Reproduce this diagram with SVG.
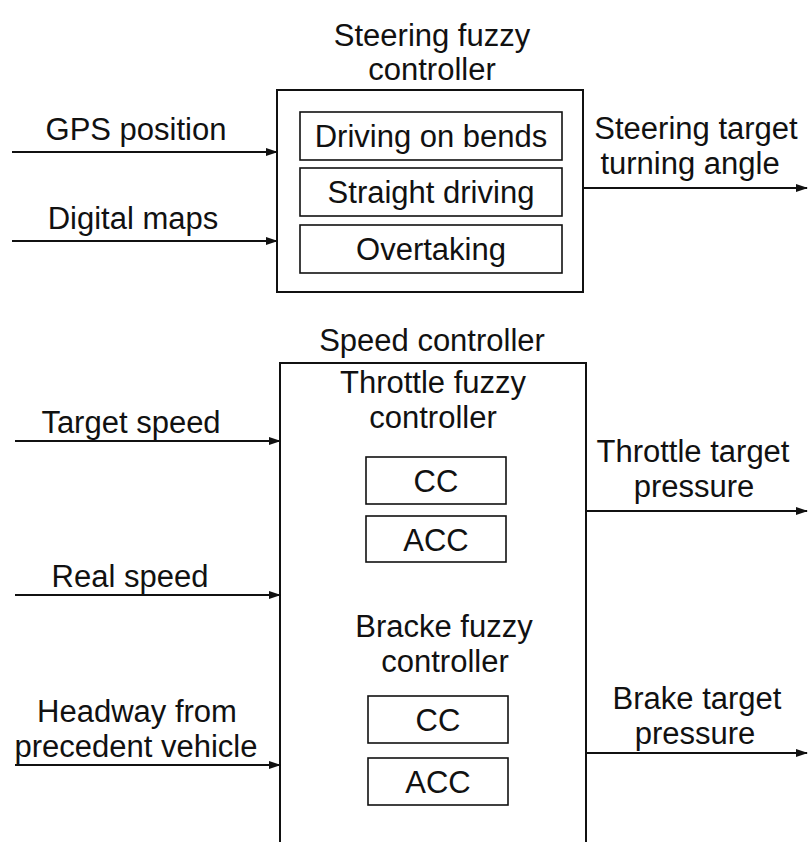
<svg xmlns="http://www.w3.org/2000/svg" width="808" height="842" viewBox="0 0 808 842">
<style>
text{font-family:"Liberation Sans",Arial,sans-serif;font-size:31px;fill:#111;text-anchor:middle}
.box{fill:none;stroke:#111;stroke-width:2}
.sub{fill:none;stroke:#111;stroke-width:1.6}
.arr{fill:none;stroke:#111;stroke-width:2;marker-end:url(#ah)}
</style>
<defs>
<marker id="ah" markerWidth="12" markerHeight="8" refX="11" refY="4" orient="auto" markerUnits="userSpaceOnUse">
<path d="M0,0 L12,4 L0,8 Z" fill="#111"/>
</marker>
</defs>
<rect width="808" height="842" fill="#fff"/>
<g id="steering">
<text x="432" y="46">Steering fuzzy</text>
<text x="432" y="80">controller</text>
<rect class="box" x="277" y="90" width="306" height="202"/>
</g>
<g id="driving-bends"><rect class="sub" x="300" y="112" width="262" height="48"/><text x="431" y="147">Driving on bends</text></g>
<g id="straight-driving"><rect class="sub" x="300" y="168" width="262" height="48"/><text x="431" y="203">Straight driving</text></g>
<g id="overtaking"><rect class="sub" x="300" y="225" width="262" height="48"/><text x="431" y="260">Overtaking</text></g>
<g id="speed">
<text x="432" y="351">Speed controller</text>
<path class="box" d="M280,842 V363 H586 V842"/>
<text x="433" y="393">Throttle fuzzy</text>
<text x="433" y="428">controller</text>
<text x="444" y="637">Bracke fuzzy</text>
<text x="445" y="672">controller</text>
</g>
<g id="throttle-cc"><rect class="sub" x="366" y="457" width="140" height="47"/><text x="436" y="492">CC</text></g>
<g id="throttle-acc"><rect class="sub" x="366" y="516" width="140" height="46"/><text x="436" y="551">ACC</text></g>
<g id="brake-cc"><rect class="sub" x="368" y="696" width="140" height="47"/><text x="438" y="731">CC</text></g>
<g id="brake-acc"><rect class="sub" x="368" y="758" width="140" height="47"/><text x="438" y="793">ACC</text></g>
<g id="labels">
<text x="136" y="140">GPS position</text>
<text x="133" y="229">Digital maps</text>
<text x="696" y="139">Steering target</text>
<text x="690" y="174">turning angle</text>
<text x="131" y="433">Target speed</text>
<text x="130" y="587">Real speed</text>
<text x="137" y="722">Headway from</text>
<text x="136" y="757">precedent vehicle</text>
<text x="693" y="462">Throttle target</text>
<text x="694" y="497">pressure</text>
<text x="697" y="709">Brake target</text>
<text x="695" y="744">pressure</text>
</g>
<g id="connectors">
<line class="arr" x1="12" y1="152" x2="277" y2="152"/>
<line class="arr" x1="12" y1="241" x2="277" y2="241"/>
<line class="arr" x1="583" y1="188" x2="807" y2="188"/>
<line class="arr" x1="15" y1="441" x2="280" y2="441"/>
<line class="arr" x1="15" y1="595" x2="280" y2="595"/>
<line class="arr" x1="15" y1="765" x2="280" y2="765"/>
<line class="arr" x1="586" y1="511" x2="807" y2="511"/>
<line class="arr" x1="586" y1="753" x2="807" y2="753"/>
</g>
</svg>
